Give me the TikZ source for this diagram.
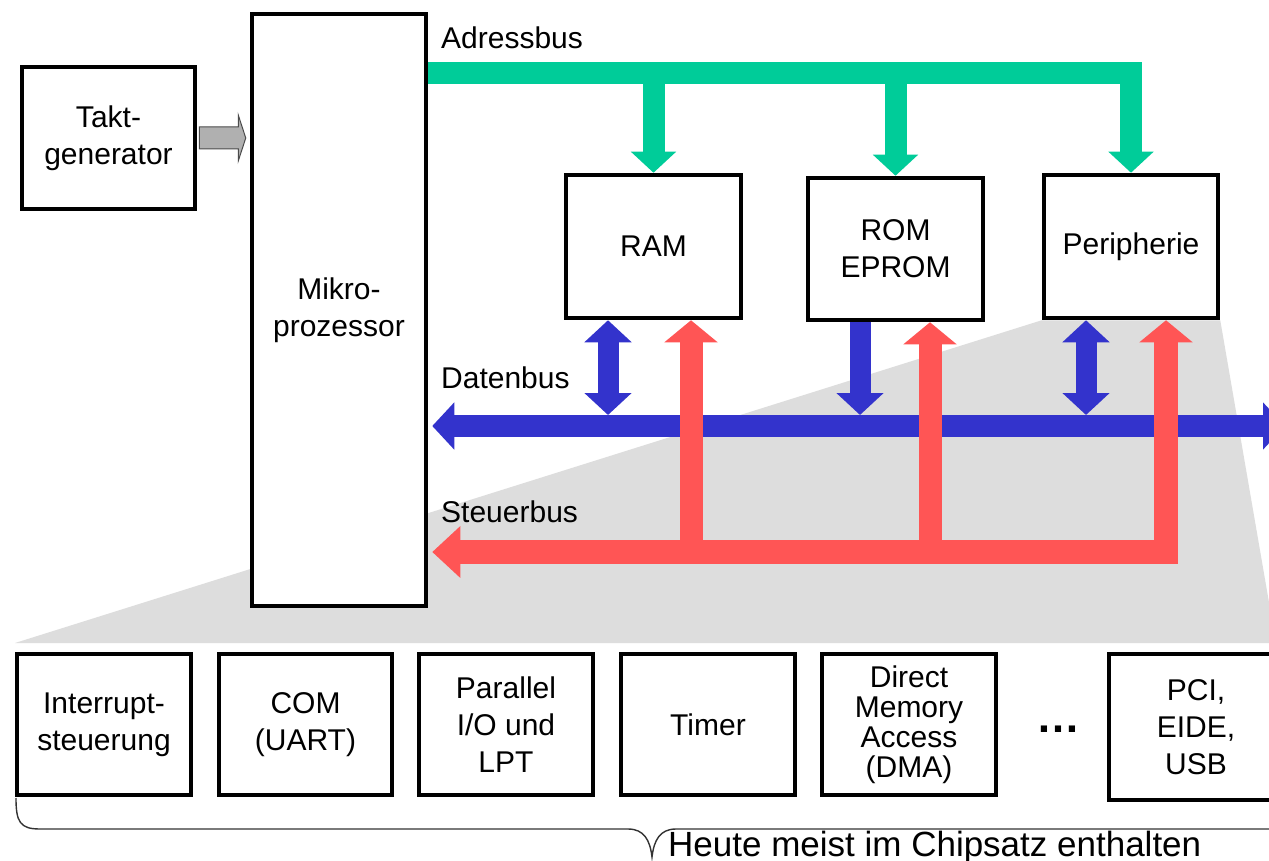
\documentclass[tikz,border=0pt]{standalone}
\usepackage{fontspec}
\setmainfont{Liberation Sans}
\usetikzlibrary{arrows.meta,calc,backgrounds}
\definecolor{abuscol}{HTML}{00CC99}
\definecolor{dbuscol}{HTML}{3333CC}
\definecolor{sbuscol}{HTML}{FF5555}
\definecolor{chipshade}{HTML}{DDDDDD}
\definecolor{clockfill}{HTML}{B0B0B0}
\tikzset{
  atip/.tip={Triangle[length=21pt,width=44pt]},
  dtip/.tip={Triangle[length=22pt,width=46pt]},
  stip/.tip={Triangle[length=22pt,width=52pt]},
  sltip/.tip={Triangle[length=28pt,width=50pt]}
}
\begin{document}
\begin{tikzpicture}[x=1pt,y=-1pt,
  box/.style={draw=black, line width=4.5pt, fill=white, align=center, inner sep=0pt,
    font=\fontsize{30}{37}\selectfont},
  buslabel/.style={anchor=west, inner sep=0pt, font=\fontsize{30}{36}\selectfont},
  abus/.style={draw=abuscol, line width=22pt, -atip},
  dbus/.style={draw=dbuscol, line width=22pt},
  sbus/.style={draw=sbuscol, line width=24pt},
  clockarrow/.style={fill=clockfill, draw=black!70, line width=1pt},
  brace/.style={draw=black!80, line width=1.4pt}
]
\clip (0,0) rectangle (1269,861);

% building blocks
\node[box, minimum width=173pt, minimum height=142pt] (tg) at (108.5,138) {Takt-\\generator};
\node[box, minimum width=174pt, minimum height=592pt] (mp) at (339,310) {Mikro-\\prozessor};
\node[box, minimum width=175pt, minimum height=143pt] (ram) at (653.5,246.5) {RAM};
\node[box, minimum width=175pt, minimum height=142pt] (rom) at (895.5,249) {ROM\\EPROM};
\node[box, minimum width=174pt, minimum height=143pt] (per) at (1131,246.5) {Peripherie};

% chipset components
\node[box, minimum width=174pt, minimum height=141pt] (irq) at (104,724.5) {Interrupt-\\steuerung};
\node[box, minimum width=173pt, minimum height=141pt] (com) at (305.5,724.5) {COM\\(UART)};
\node[box, minimum width=174pt, minimum height=141pt] (par) at (506,724.5) {Parallel\\I/O und\\LPT};
\node[box, minimum width=174pt, minimum height=141pt] (tim) at (708,724.5) {Timer};
\node[box, minimum width=174pt, minimum height=141pt, font=\fontsize{30}{30}\selectfont] (dma) at (909,724.5) {Direct\\Memory\\Access\\(DMA)};
\node[box, minimum width=174pt, minimum height=146pt] (pci) at (1196,727) {PCI,\\EIDE,\\USB};
\node[anchor=base, inner sep=0pt, font=\bfseries\fontsize{44}{44}\selectfont] (dots) at (1058,732) {…};

% bus labels
\node[buslabel] (alabel) at (441,38) {Adressbus};
\node[buslabel] (dlabel) at (441,378) {Datenbus};
\node[buslabel] (slabel) at (441,512) {Steuerbus};

\coordinate (dbL) at ($(mp.east |- 0,426)+(4,0)$);
\coordinate (dbR) at (1285,426);
\coordinate (sbL) at ($(mp.east |- 0,552)+(4,0)$);

\begin{pgfonlayer}{background}
  \fill[white] (0,0) rectangle (1269,861);
  % shaded region fanning out from the peripherals
  \fill[chipshade] (per.south west) -- (per.south east) -- (1276,643) -- (15,643) -- cycle;

  % address bus
  \draw[abus] (mp.east |- 0,73) -- (per.north |- 0,73) -- (per.north);
  \draw[abus] (ram.north |- 0,73) -- (ram.north);
  \draw[abus] (rom.north |- 0,73) -- (rom.north);

  % data bus
  \draw[dbus, dtip-dtip] (dbL) -- (dbR);
  \draw[dbus, line width=21pt, dtip-dtip] (ram.south -| 608,0) -- (608,415);
  \draw[dbus, line width=21pt, -dtip] (rom.south -| 860,0) -- (860,415);
  \draw[dbus, line width=21pt, dtip-dtip] (per.south -| 1086,0) -- (1086,415);

  % control bus
  \draw[sbus, sltip-stip] (sbL) -- (1166,552) -- (per.south -| 1166,0);
  \draw[sbus, line width=23pt, -stip] (691,552) -- (ram.south -| 691,0);
  \draw[sbus, line width=23pt, -stip] (930,552) -- (rom.south -| 930,0);
\end{pgfonlayer}

% clock signal into the processor
\draw[clockarrow] ($(tg.east)+(2,-11)$) -- ($(tg.east)+(41,-11)$) -- ($(tg.east)+(41,-23)$)
  -- ($(mp.west |- tg.east)+(-4,0)$) -- ($(tg.east)+(41,23)$) -- ($(tg.east)+(41,11)$)
  -- ($(tg.east)+(2,11)$) -- cycle;

% brace under the chipset components
\draw[brace] (16,798) .. controls (16,822) and (20,829) .. (40,829) -- (628,829)
  .. controls (644,829) and (650,840) .. (652,857)
  .. controls (654,840) and (660,829) .. (676,829) -- (1290,829);
\node[anchor=base west, inner sep=0pt, font=\fontsize{35}{35}\selectfont] (note) at (668,856) {Heute meist im Chipsatz enthalten};
\end{tikzpicture}
\end{document}
